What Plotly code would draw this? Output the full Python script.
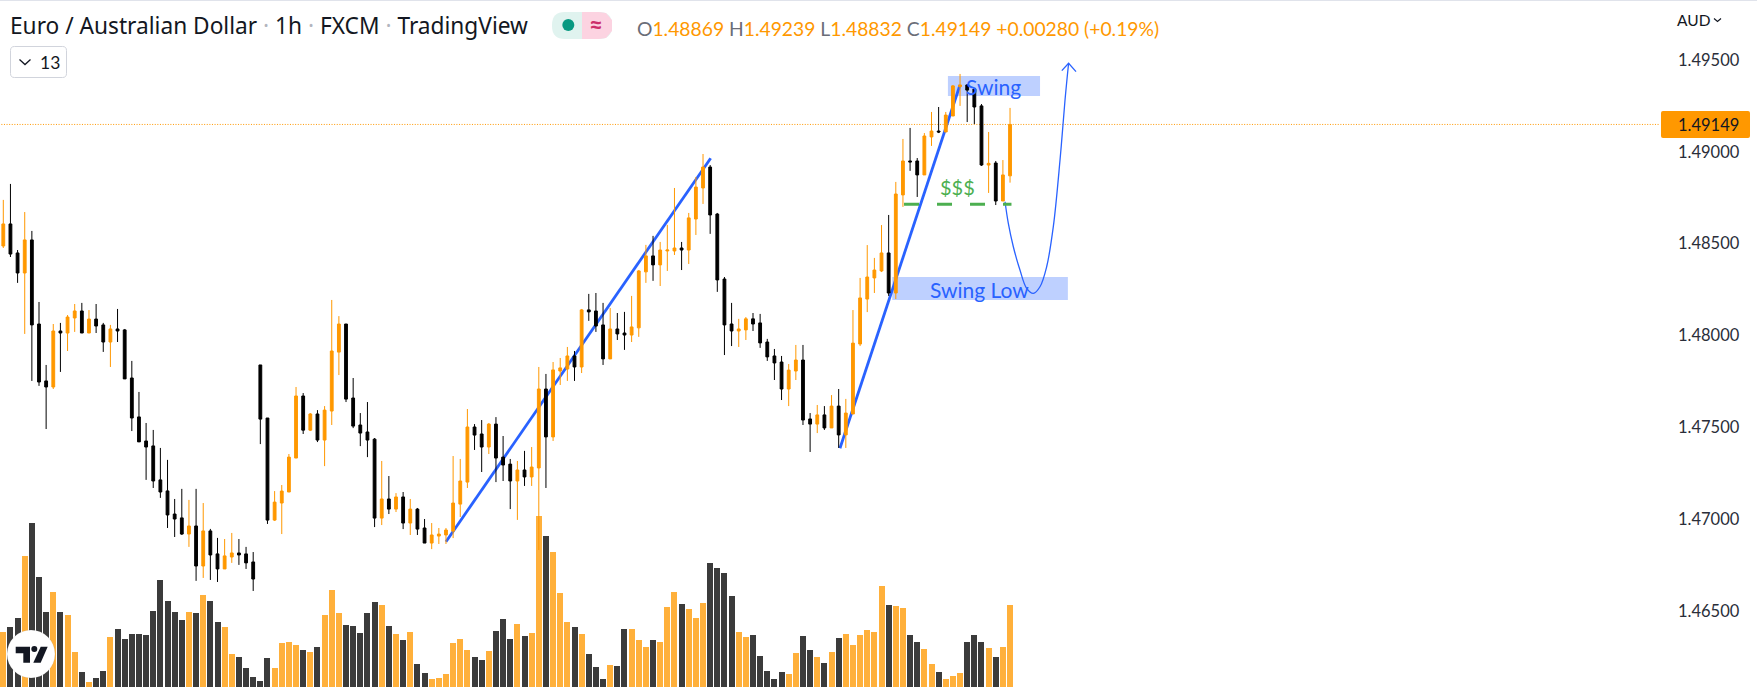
import plotly.graph_objects as go

# ---------- data ----------
opens = [1.48487,1.48607,1.48449,1.48340,1.48520,1.48062,1.47752,1.47719,1.48024,1.48013,1.48095,1.48133,1.48013,1.48089,1.48057,1.47964,1.48035,1.48030,1.47768,1.47556,
1.47425,1.47398,1.47213,1.47153,1.47027,1.47006,1.46918,1.46962,1.46744,1.46935,1.46810,1.46728,1.46793,1.46815,1.46810,1.46766,1.47839,1.47550,1.46994,1.47087,
1.47147,1.47332,1.47670,1.47484,1.47572,1.47430,1.47588,1.47909,1.48062,1.47659,1.47512,1.47474,1.47435,1.47005,1.47109,1.47054,1.47120,1.46978,1.47054,1.46951,
1.46869,1.46907,1.46913,1.46934,1.47081,1.47201,1.47501,1.47463,1.47392,1.47517,1.47337,1.47299,1.47207,1.47267,1.47229,1.47278,1.47708,1.47447,1.47806,1.47817,
1.47888,1.47828,1.48139,1.48133,1.48057,1.47872,1.48035,1.48013,1.48002,1.48041,1.48346,1.48433,1.48384,1.48460,1.48460,1.48476,1.48465,1.48634,1.48803,1.48917,
1.48661,1.48307,1.48062,1.48024,1.48030,1.48090,1.48068,1.47964,1.47888,1.47855,1.47708,1.47806,1.47866,1.47545,1.47517,1.47567,1.47496,1.47615,1.47458,1.47572,
1.47953,1.48198,1.48313,1.48351,1.48449,1.48231,1.48765,1.48950,1.48950,1.48874,1.49081,1.49113,1.49108,1.49195,1.49355,1.49364,1.49342,1.49250,1.48928,1.48939,
1.48732,1.48869]
highs = [1.48738,1.48825,1.48465,1.48672,1.48569,1.48182,1.47839,1.48062,1.48068,1.48111,1.48171,1.48177,1.48138,1.48171,1.48068,1.48057,1.48144,1.48035,1.47861,1.47692,
1.47523,1.47485,1.47387,1.47322,1.47109,1.47164,1.47104,1.47164,1.47087,1.46946,1.46897,1.46891,1.46924,1.46891,1.46848,1.46820,1.47839,1.47550,1.47152,1.47185,
1.47354,1.47719,1.47686,1.47577,1.47593,1.47615,1.48193,1.48105,1.48062,1.47768,1.47577,1.47637,1.47441,1.47316,1.47234,1.47141,1.47147,1.47109,1.47060,1.47000,
1.46978,1.46951,1.46951,1.47343,1.47327,1.47599,1.47517,1.47539,1.47523,1.47555,1.47452,1.47327,1.47316,1.47371,1.47392,1.47828,1.47790,1.47855,1.47877,1.47937,
1.47915,1.48144,1.48226,1.48231,1.48177,1.48149,1.48122,1.48128,1.48215,1.48356,1.48493,1.48542,1.48509,1.48602,1.48803,1.48509,1.48667,1.48863,1.48988,1.48928,
1.48667,1.48318,1.48177,1.48090,1.48100,1.48122,1.48117,1.47981,1.47926,1.47888,1.47844,1.47948,1.47948,1.47577,1.47621,1.47615,1.47675,1.47708,1.47654,1.48138,
1.48313,1.48492,1.48422,1.48601,1.48656,1.48836,1.49070,1.49130,1.48966,1.49102,1.49217,1.49244,1.49217,1.49364,1.49424,1.49369,1.49347,1.49260,1.49108,1.48950,
1.48955,1.49239]
lows = [1.48476,1.48427,1.48286,1.48008,1.47752,1.47725,1.47490,1.47708,1.47801,1.47915,1.48019,1.48013,1.48013,1.48013,1.47910,1.47828,1.47964,1.47763,1.47479,1.47420,
1.47213,1.47169,1.47115,1.46951,1.46902,1.46913,1.46848,1.46663,1.46679,1.46668,1.46657,1.46728,1.46761,1.46750,1.46728,1.46608,1.47408,1.46973,1.46989,1.46918,
1.47147,1.47332,1.47463,1.47479,1.47419,1.47288,1.47512,1.47784,1.47637,1.47495,1.47397,1.47337,1.46956,1.46967,1.47027,1.47038,1.46945,1.46913,1.46913,1.46869,
1.46836,1.46864,1.46864,1.46896,1.47011,1.47169,1.47376,1.47256,1.47354,1.47201,1.47207,1.47054,1.46995,1.47180,1.47180,1.46831,1.47169,1.47425,1.47730,1.47752,
1.47752,1.47795,1.48079,1.48019,1.47839,1.47872,1.47975,1.47921,1.47964,1.47992,1.48286,1.48297,1.48269,1.48351,1.48438,1.48356,1.48389,1.48547,1.48716,1.48553,
1.48237,1.47893,1.47942,1.47937,1.47975,1.48024,1.47932,1.47861,1.47757,1.47648,1.47615,1.47757,1.47512,1.47365,1.47468,1.47485,1.47496,1.47387,1.47387,1.47572,
1.47942,1.48127,1.48231,1.48345,1.48215,1.48198,1.48700,1.48896,1.48754,1.48874,1.49032,1.49102,1.49108,1.49195,1.49250,1.49162,1.49151,1.48923,1.48776,1.48710,
1.48732,1.48832]
closes = [1.48607,1.48443,1.48340,1.48520,1.48057,1.47746,1.47719,1.48024,1.48013,1.48100,1.48133,1.48013,1.48089,1.48051,1.47964,1.48035,1.48024,1.47763,1.47550,1.47420,
1.47392,1.47207,1.47147,1.47022,1.47000,1.46918,1.46962,1.46744,1.46935,1.46804,1.46728,1.46799,1.46815,1.46804,1.46761,1.46673,1.47544,1.46994,1.47092,1.47152,
1.47337,1.47670,1.47484,1.47572,1.47430,1.47593,1.47915,1.48062,1.47653,1.47506,1.47468,1.47430,1.47005,1.47109,1.47054,1.47120,1.46978,1.47054,1.46945,1.46869,
1.46913,1.46918,1.46940,1.47087,1.47207,1.47501,1.47457,1.47392,1.47517,1.47332,1.47294,1.47207,1.47267,1.47229,1.47283,1.47708,1.47447,1.47812,1.47823,1.47888,
1.47828,1.48139,1.48128,1.48051,1.47872,1.48035,1.48008,1.48002,1.48046,1.48351,1.48433,1.48384,1.48465,1.48465,1.48476,1.48465,1.48640,1.48808,1.48917,1.48656,
1.48302,1.48057,1.48024,1.48035,1.48090,1.48062,1.47959,1.47883,1.47850,1.47708,1.47811,1.47866,1.47539,1.47517,1.47567,1.47496,1.47615,1.47458,1.47577,1.47958,
1.48204,1.48318,1.48356,1.48449,1.48231,1.48770,1.48950,1.48945,1.48874,1.49086,1.49113,1.49108,1.49200,1.49359,1.49364,1.49336,1.49244,1.48928,1.48937,1.48732,
1.48874,1.49149]
volumes = [165,180,207,393,492,330,225,285,225,216,105,45,15,27,48,150,174,144,159,159,156,228,321,258,225,201,225,222,276,258,
195,180,99,90,57,30,18,87,57,132,135,126,111,105,120,216,291,222,186,183,162,222,255,246,183,159,141,165,69,42,
24,27,39,132,144,111,90,81,108,168,204,144,189,153,162,513,453,405,282,195,180,159,99,60,24,66,63,174,174,141,
120,141,135,240,285,249,234,207,252,372,357,342,273,165,150,156,93,48,24,45,39,102,153,111,90,72,105,147,159,126,
156,171,165,303,246,243,237,156,135,114,69,45,24,33,42,135,156,135,117,90,120,246]
bars = list(range(len(opens)))

price_ticks = [1.465, 1.47, 1.475, 1.48, 1.485, 1.49, 1.495]
price_tick_text = ["1.46500", "1.47000", "1.47500", "1.48000", "1.48500", "1.49000", "1.49500"]
last_price = 1.49149
title_parts = ["Euro / Australian Dollar", "1h", "FXCM", "TradingView"]
ohlc_labels = [("O", "1.48869"), ("H", "1.49239"), ("L", "1.48832"), ("C", "1.49149")]
ohlc_change = "+0.00280 (+0.19%)"

trend1_x, trend1_y = [62.0, 99.07], [1.46876, 1.48965]
trend2_x, trend2_y = [117.18, 133.99], [1.47385, 1.49364]
curve_x = [140.3,140.76,141.46,142.39,143.33,144.26,145.19,146.13,147.06,148.0,148.7,149.2]
curve_y = [1.48728,1.48610,1.48483,1.48356,1.48256,1.48229,1.48265,1.48374,1.48592,1.48955,1.49282,1.49482]
arrow_x = [148.25,149.2,150.24]
arrow_y = [1.49442,1.49482,1.49437]
swing_box = dict(x0=132.3, x1=145.2, y0=1.49304, y1=1.49413)
swing_low_box = dict(x0=124.5, x1=149.1, y0=1.48193, y1=1.48318)
liquidity = dict(x0=126.15, x1=141.2, y=1.48714)

# ---------- style ----------
W, H, PLOT_W = 1757, 690, 1660
FONT = "Lato"
HEADER_FONT = "Noto Sans"
ORANGE, BLACK, BLUE, GREEN = "#FF9800", "#000000", "#2962FF", "#4CAF50"
TEXT = "#131722"

def px(x): return x / PLOT_W
def py(y): return 1 - y / H

def paper_shape(kind, x0, y0, x1, y1, **kw):
    return dict(type=kind, xref="paper", yref="paper", x0=px(x0), x1=px(x1), y0=py(y0), y1=py(y1), **kw)

def paper_path(points, close=True, **kw):
    d = "M " + " L ".join(f"{px(x):.5f},{py(y):.5f}" for x, y in points) + (" Z" if close else "")
    return dict(type="path", xref="paper", yref="paper", path=d, **kw)

def rounded(x0, y0, x1, y1, r):
    """rounded rectangle path in px"""
    def P(x, y): return f"{px(x):.5f},{py(y):.5f}"
    return (f"M {P(x0+r,y0)} L {P(x1-r,y0)} Q {P(x1,y0)} {P(x1,y0+r)} L {P(x1,y1-r)} Q {P(x1,y1)} {P(x1-r,y1)} "
            f"L {P(x0+r,y1)} Q {P(x0,y1)} {P(x0,y1-r)} L {P(x0,y0+r)} Q {P(x0,y0)} {P(x0+r,y0)} Z")

def note(text, x, y, size, color=TEXT, anchor="left", font=FONT):
    return dict(text=text, xref="paper", yref="paper", x=px(x), y=py(y), xanchor=anchor, yanchor="middle",
                showarrow=False, borderpad=0, font=dict(family=font, size=size, color=color))

fig = go.Figure()
vol_colors = ["rgba(255,152,0,0.77)" if c >= o else "rgba(0,0,0,0.77)" for o, c in zip(opens, closes)]
fig.add_trace(go.Bar(x=bars, y=volumes, marker=dict(color=vol_colors, line_width=0), width=0.84, yaxis="y"))
fig.add_trace(go.Candlestick(x=bars, open=opens, high=highs, low=lows, close=closes, yaxis="y2",
    whiskerwidth=0,
    increasing=dict(line=dict(color=ORANGE, width=1), fillcolor=ORANGE),
    decreasing=dict(line=dict(color=BLACK, width=1), fillcolor=BLACK)))
fig.add_trace(go.Scatter(x=curve_x, y=curve_y, mode="lines", yaxis="y2", line=dict(color=BLUE, width=1.3, shape="spline")))
fig.add_trace(go.Scatter(x=arrow_x, y=arrow_y, mode="lines", yaxis="y2", line=dict(color=BLUE, width=1.3)))

dsh = dict(xref="x", yref="y2")
shapes = [
    dict(type="line", x0=-1, x1=240, y0=last_price, y1=last_price, layer="below", line=dict(color=ORANGE, width=1, dash="1px,1.6px"), **dsh),
    dict(type="rect", layer="below", line_width=0, fillcolor="rgba(41,98,255,0.3)", **swing_box, **dsh),
    dict(type="rect", layer="below", line_width=0, fillcolor="rgba(41,98,255,0.3)", **swing_low_box, **dsh),
    dict(type="line", layer="below", x0=trend1_x[0], x1=trend1_x[1], y0=trend1_y[0], y1=trend1_y[1], line=dict(color=BLUE, width=2.8), **dsh),
    dict(type="line", layer="below", x0=trend2_x[0], x1=trend2_x[1], y0=trend2_y[0], y1=trend2_y[1], line=dict(color=BLUE, width=2.8), **dsh),
    dict(type="line", x0=liquidity["x0"], x1=liquidity["x1"], y0=liquidity["y"], y1=liquidity["y"], line=dict(color=GREEN, width=3, dash="15px,18px"), **dsh),
    # top border
    paper_shape("rect", 0, 0, W, 1, fillcolor="#E0E3EB", line_width=0),
    # status pill
    dict(type="path", xref="paper", yref="paper", path=rounded(552, 12, 612, 39, 13), fillcolor="#E0F3EF", line_width=0),
    paper_path([(582, 12), (599, 12), (606, 13), (612, 20), (612, 31), (606, 38), (599, 39), (582, 39)], fillcolor="#FCD3E1", line_width=0),
    paper_shape("circle", 562.3, 19, 574.3, 31, fillcolor="#089981", line_width=0),
    # collapse button
    dict(type="path", xref="paper", yref="paper", path=rounded(10.5, 46.5, 66.5, 77.5, 4), fillcolor="white", line=dict(color="#D1D4DC", width=1)),
    paper_path([(19.5, 59.5), (25, 64.5), (30.5, 59.5)], close=False, line=dict(color=TEXT, width=1.3)),
    # price tag
    dict(type="path", xref="paper", yref="paper", path=rounded(1661, 111, 1750, 138, 2), fillcolor=ORANGE, line_width=0),
    # AUD chevron
    paper_path([(1714, 18.5), (1717.5, 21.5), (1721, 18.5)], close=False, line=dict(color=TEXT, width=1.2)),
    # TradingView badge
    paper_shape("circle", 7, 630, 55, 678, fillcolor="white", line=dict(color="rgba(0,0,0,0.07)", width=1)),
    paper_path([(15.7, 646.7), (30, 646.7), (30, 662.7), (23.3, 662.7), (23.3, 653.3), (15.7, 653.3)], fillcolor=TEXT, line_width=0),
    paper_shape("circle", 31.3, 646, 37.3, 652, fillcolor=TEXT, line_width=0),
    paper_path([(40.7, 646.7), (47.7, 646.7), (40.7, 662.7), (33.3, 662.7)], fillcolor=TEXT, line_width=0),
]

dot = '<span style="color:#B2B5BE"> · </span>'
title = dot.join(title_parts)
ohlc_text = " ".join(f'<span style="color:#6A6D78">{k}</span>{v}' for k, v in ohlc_labels) + " " + ohlc_change

annotations = [
    note(title, 9, 26, 22.7, font=HEADER_FONT),
    note("13", 39, 62.5, 17.5),
    note("<b>≈</b>", 596, 24.5, 24, "#CC2F6A", "center"),
    note(ohlc_text, 636, 28, 19.3, ORANGE),
    note("AUD", 1676, 20.5, 15.5),
    note("1.49149", 1677, 125, 16.5),
    dict(text="$$$", x=(957.3 - 3.3) / 7.14, y=1.495 - 126.7 * 5.447e-5, xref="x", yref="y2", showarrow=False, borderpad=0,
         font=dict(family=FONT, size=20, color=GREEN)),
    dict(text="Swing", x=(993.5 - 3.3) / 7.14, y=1.495 - 26.7 * 5.447e-5, xref="x", yref="y2", showarrow=False, borderpad=0,
         font=dict(family=FONT, size=21, color=BLUE)),
    dict(text="Swing Low", x=(979.5 - 3.3) / 7.14, y=1.495 - 229 * 5.447e-5, xref="x", yref="y2", showarrow=False, borderpad=0,
         font=dict(family=FONT, size=21, color=BLUE)),
]

fig.update_layout(
    width=W, height=H, margin=dict(l=0, r=W - PLOT_W, t=0, b=0), autosize=False,
    paper_bgcolor="white", plot_bgcolor="white", showlegend=False, boxgap=0.44, bargap=0,
    xaxis=dict(visible=False, range=[-0.462, 232.03], rangeslider=dict(visible=False), fixedrange=True),
    yaxis=dict(visible=False, range=[-9, 2061], fixedrange=True),
    yaxis2=dict(overlaying="y", side="right", range=[1.460686, 1.498268], tickmode="array",
                tickvals=price_ticks, ticktext=price_tick_text, showgrid=False, zeroline=False, showline=False,
                ticks="", ticklabelstandoff=17, tickfont=dict(family=FONT, size=16.5, color="#2A2E39"), fixedrange=True),
    shapes=shapes, annotations=annotations,
)
fig.write_html("out.html", config=dict(displayModeBar=False),
               post_script="document.body.style.margin='0';document.body.style.overflow='hidden';")
